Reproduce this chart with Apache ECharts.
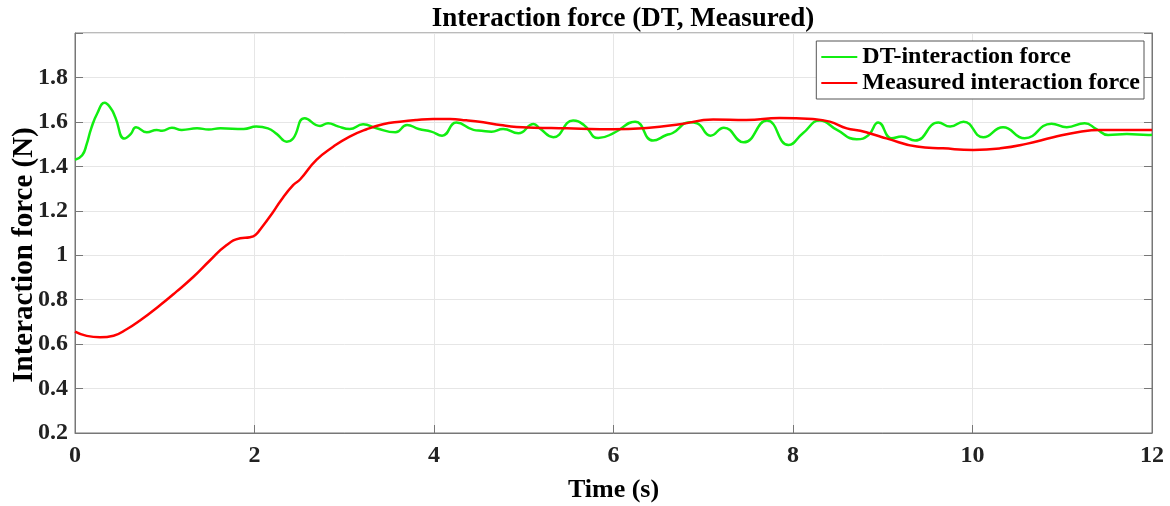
<!DOCTYPE html>
<html>
<head>
<meta charset="utf-8">
<script src="https://cdn.jsdelivr.net/npm/echarts@6/dist/echarts.min.js"></script>
<style>
  html, body { margin: 0; padding: 0; background: #fff; }
  #chart { width: 1170px; height: 506px; }
</style>
</head>
<body>
<div id="chart"></div>
<script>
// DT-interaction force (green)
const dtTime = [0, 0.08, 0.13, 0.18, 0.25, 0.33, 0.40, 0.45, 0.55, 0.62, 0.68, 0.80, 0.91, 0.97, 1.08, 1.19, 1.36, 1.49, 1.62, 1.88,
  2.02, 2.15, 2.25, 2.36, 2.43, 2.56, 2.73, 2.82, 2.93, 3.06, 3.21, 3.36, 3.57, 3.70, 3.83, 3.97, 4.09, 4.25, 4.44, 4.53,
  4.64, 4.77, 4.94, 5.11, 5.18, 5.33, 5.55, 5.67, 5.83, 6.00, 6.24, 6.44, 6.59, 6.66, 6.85, 6.93, 7.08, 7.23, 7.45, 7.71,
  7.95, 8.11, 8.30, 8.49, 8.71, 8.84, 8.95, 9.10, 9.21, 9.36, 9.62, 9.75, 9.90, 10.12, 10.34, 10.58, 10.88, 11.05, 11.25, 11.38,
  11.51, 11.72, 11.96, 12.0];
const dtForce = [1.43, 1.45, 1.50, 1.57, 1.64, 1.686, 1.66, 1.62, 1.525, 1.545, 1.576, 1.553, 1.564, 1.56, 1.574, 1.564, 1.571, 1.566, 1.571, 1.568,
  1.579, 1.571, 1.545, 1.511, 1.525, 1.616, 1.582, 1.594, 1.58, 1.568, 1.589, 1.571, 1.553, 1.586, 1.568, 1.556, 1.538, 1.597, 1.564, 1.56,
  1.556, 1.568, 1.549, 1.591, 1.57, 1.531, 1.606, 1.586, 1.527, 1.549, 1.601, 1.516, 1.541, 1.55, 1.598, 1.594, 1.538, 1.574, 1.508, 1.606,
  1.496, 1.549, 1.606, 1.564, 1.522, 1.54, 1.597, 1.526, 1.534, 1.516, 1.597, 1.579, 1.601, 1.531, 1.576, 1.526, 1.592, 1.576, 1.594, 1.568,
  1.541, 1.545, 1.541, 1.542];

// Measured interaction force (red)
const mTime = [0, 0.13, 0.28, 0.43, 0.58, 0.72, 0.95, 1.13, 1.32, 1.50, 1.69, 1.84, 1.95, 2.01, 2.06, 2.20, 2.30, 2.43, 2.51, 2.69,
  2.88, 3.06, 3.25, 3.43, 3.62, 3.81, 3.99, 4.18, 4.36, 4.55, 4.74, 4.92, 5.11, 5.48, 5.85, 6.00, 6.37, 6.74, 7.11, 7.48,
  7.85, 8.22, 8.41, 8.60, 8.75, 8.97, 9.04, 9.38, 9.67, 10.01, 10.31, 10.60, 10.90, 11.20, 11.42, 11.72, 12.0];
const mForce = [0.656, 0.637, 0.631, 0.638, 0.668, 0.705, 0.776, 0.836, 0.903, 0.975, 1.046, 1.076, 1.081, 1.091, 1.114, 1.19, 1.25, 1.315, 1.342, 1.429,
  1.489, 1.534, 1.567, 1.589, 1.601, 1.609, 1.613, 1.613, 1.607, 1.598, 1.586, 1.577, 1.574, 1.571, 1.567, 1.567, 1.573, 1.589, 1.611, 1.608,
  1.618, 1.613, 1.601, 1.571, 1.560, 1.534, 1.526, 1.489, 1.481, 1.474, 1.481, 1.501, 1.531, 1.556, 1.564, 1.564, 1.564];

const font = 'Liberation Serif';
const axisColor = '#777';

let myChart = echarts.init(document.getElementById('chart'));
myChart.setOption({
  animation: false,
  title: {
    text: 'Interaction force (DT, Measured)',
    left: 618, top: 1, textAlign: 'center',
    textStyle: { fontFamily: font, fontWeight: 'bold', fontSize: 27, color: '#000' }
  },
  legend: {
    right: 26, top: 41,
    orient: 'vertical',
    itemWidth: 36, itemHeight: 2, itemGap: 2,
    padding: [4, 4, 4, 5],
    borderColor: '#555', borderWidth: 1, backgroundColor: '#fff',
    textStyle: { fontFamily: font, fontWeight: 'bold', fontSize: 24, color: '#000' },
    data: [
      { name: 'DT-interaction force', icon: 'rect' },
      { name: 'Measured interaction force', icon: 'rect' }
    ]
  },
  grid: { left: 75, right: 18, top: 33, bottom: 73, outerBoundsMode: 'none', show: true, borderColor: axisColor, borderWidth: 1 },
  xAxis: {
    type: 'value', min: 0, max: 12, interval: 2,
    name: 'Time (s)', nameLocation: 'middle', nameGap: 44, nameMoveOverlap: false,
    nameTextStyle: { fontFamily: font, fontWeight: 'bold', fontSize: 26, color: '#000' },
    axisLine: { show: true, lineStyle: { color: axisColor } },
    axisTick: { show: true, inside: true, length: 8, lineStyle: { color: axisColor } },
    axisLabel: { fontFamily: font, fontWeight: 'bold', fontSize: 24, color: '#222', margin: 11 },
    splitLine: { show: true, lineStyle: { color: '#e6e6e6' } }
  },
  yAxis: [{
    type: 'value', min: 0.2, max: 2.0, interval: 0.2,
    name: 'Interaction force (N)', nameLocation: 'middle', nameGap: 36, nameMoveOverlap: false,
    nameTextStyle: { fontFamily: font, fontWeight: 'bold', fontSize: 29, color: '#000', padding: [0, 44, 0, 0] },
    axisLine: { show: true, lineStyle: { color: axisColor } },
    axisTick: { show: true, inside: true, length: 8, lineStyle: { color: axisColor } },
    axisLabel: {
      fontFamily: font, fontWeight: 'bold', fontSize: 24, color: '#222', margin: 7,
      formatter: v => (Math.abs(v - 2) < 1e-6 ? '' : String(Math.round(v * 10) / 10))
    },
    splitLine: { show: true, lineStyle: { color: '#e6e6e6' } }
  }, {
    type: 'value', min: 0.2, max: 2.0, interval: 0.2, position: 'right',
    axisLine: { show: true, lineStyle: { color: axisColor } },
    axisTick: { show: true, inside: true, length: 8, lineStyle: { color: axisColor } },
    axisLabel: { show: false },
    splitLine: { show: false }
  }],
  series: [{
    name: 'DT-interaction force',
    type: 'line', smooth: 0.5, showSymbol: false,
    color: '#11ee11',
    lineStyle: { width: 2.5, color: '#11ee11' },
    data: dtTime.map((t, i) => [t, dtForce[i]])
  }, {
    name: 'Measured interaction force',
    type: 'line', smooth: 0.5, showSymbol: false,
    color: '#ff0000',
    lineStyle: { width: 2.5, color: '#ff0000' },
    data: mTime.map((t, i) => [t, mForce[i]])
  }]
});
</script>
</body>
</html>
